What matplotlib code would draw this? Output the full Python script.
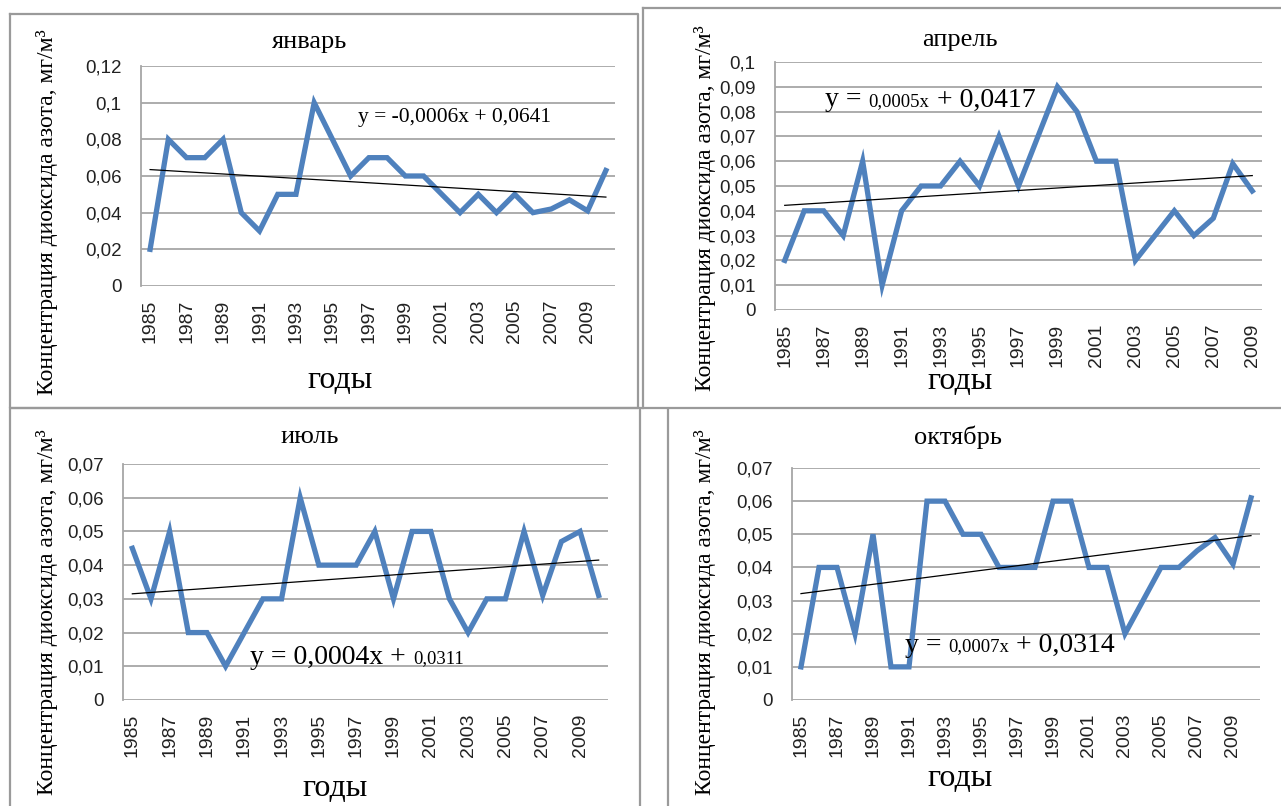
import matplotlib
matplotlib.use("Agg")
import matplotlib.pyplot as plt
from matplotlib.offsetbox import TextArea, HPacker, AnchoredOffsetbox
from matplotlib.lines import Line2D

W, H = 1281, 806

# ---- data -------------------------------------------------------------
years_jan = list(range(1985, 2011))
years_apr = list(range(1985, 2010))
years_jul = list(range(1985, 2011))
years_oct = list(range(1985, 2011))

jan = [0.02, 0.08, 0.07, 0.07, 0.08, 0.04, 0.03, 0.05, 0.05, 0.10, 0.08, 0.06, 0.07,
       0.07, 0.06, 0.06, 0.05, 0.04, 0.05, 0.04, 0.05, 0.04, 0.042, 0.047, 0.041, 0.063]
apr = [0.02, 0.04, 0.04, 0.03, 0.06, 0.01, 0.04, 0.05, 0.05, 0.06, 0.05, 0.07, 0.05,
       0.07, 0.09, 0.08, 0.06, 0.06, 0.02, 0.03, 0.04, 0.03, 0.037, 0.059, 0.048]
jul = [0.045, 0.03, 0.05, 0.02, 0.02, 0.01, 0.02, 0.03, 0.03, 0.06, 0.04, 0.04, 0.04,
       0.05, 0.03, 0.05, 0.05, 0.03, 0.02, 0.03, 0.03, 0.05, 0.031, 0.047, 0.05, 0.031]
octo = [0.01, 0.04, 0.04, 0.02, 0.05, 0.01, 0.01, 0.06, 0.06, 0.05, 0.05, 0.04, 0.04,
        0.04, 0.06, 0.06, 0.04, 0.04, 0.02, 0.03, 0.04, 0.04, 0.045, 0.049, 0.041, 0.061]

# linear trend coefficients (x = 1..N)
trend_jan = (-0.0006, 0.0641)
trend_apr = (0.0005, 0.0417)
trend_jul = (0.0004, 0.0311)
trend_oct = (0.0007, 0.0314)

# trend equations as (text, font size) pieces
eq_jan = [("y = -0,0006x + 0,0641", 15.5)]
eq_apr = [("y = ", 20), ("0,0005x", 13.5), (" + 0,0417", 20)]
eq_jul = [("y = 0,0004x + ", 20), ("0,0311", 13.5)]
eq_oct = [("y = ", 20), ("0,0007x", 13.5), (" + 0,0314", 20)]

titles = ["январь", "апрель", "июль", "октябрь"]
ylabel = "Концентрация диоксида азота, мг/м³"
xlabel = "годы"

ymax_jan, ystep_jan = 0.12, 0.02
ymax_apr, ystep_apr = 0.10, 0.01
ymax_jul, ystep_jul = 0.07, 0.01
ymax_oct, ystep_oct = 0.07, 0.01

# ---- styling ----------------------------------------------------------
SERIF = "Liberation Serif"
SANS = "Liberation Sans"
LINE_BLUE = "#4F81BD"
GRID = "#A6A6A6"
FRAME = "#9A9A9A"

fig = plt.figure(figsize=(W / 100, H / 100), dpi=100)
fig.patch.set_facecolor("white")


def px_axes(x0, y0, x1, y1):
    return fig.add_axes([x0 / W, 1 - y1 / H, (x1 - x0) / W, (y1 - y0) / H])


def fig_text(x, y, s, **kw):
    fig.text(x / W, 1 - y / H, s, **kw)


def fmt(v):
    v = round(v, 4)
    if v == 0:
        return "0"
    return f"{v:g}".replace(".", ",")


# panel frames
frames = [
    [(10, 14), (638, 14), (638, 408), (10, 408), (10, 14)],
    [(643, 8), (1281, 8)],
    [(643, 8), (643, 408)],
    [(10, 408), (1281, 408)],
    [(10, 410), (10, 806)],
    [(640, 410), (640, 806)],
    [(668, 410), (668, 806)],
]
for pts in frames:
    xs = [p[0] / W for p in pts]
    ys = [1 - p[1] / H for p in pts]
    fig.add_artist(Line2D(xs, ys, color=FRAME, lw=1.6, transform=fig.transFigure))


def panel(rect, years, values, trend, eq, eq_pos, ymax, ystep):
    ax = px_axes(*rect)
    n = len(values)
    xs = list(range(n))
    ax.set_xlim(-0.5, n - 0.5)
    ax.set_ylim(0, ymax)
    nt = int(round(ymax / ystep))
    yt = [round(i * ystep, 4) for i in range(nt + 1)]
    ax.set_yticks(yt)
    ax.set_yticklabels([fmt(v) for v in yt], fontname=SANS, fontsize=13.5, color="#222222")
    ax.set_xticks(xs[::2])
    ax.set_xticklabels([str(y) for y in years[::2]], rotation=90, fontname=SANS,
                       fontsize=14, color="#222222")
    ax.tick_params(length=0, pad=14)
    ax.tick_params(axis="x", pad=10)
    ax.grid(axis="y", color=GRID, lw=1.3)
    ax.set_axisbelow(True)
    for s in ("top", "right", "bottom"):
        ax.spines[s].set_visible(False)
    ax.spines["left"].set_color(GRID)
    ax.spines["left"].set_linewidth(1.3)

    ax.plot(xs, values, color=LINE_BLUE, lw=3.8, solid_joinstyle="miter", zorder=3)
    k, b = trend
    tx = [0, n - 1]
    ty = [k * 1 + b, k * n + b]
    ax.plot(tx, ty, color="black", lw=0.9, zorder=4)

    parts = [TextArea(s, textprops=dict(fontsize=fs, fontname=SERIF, color="black"))
             for s, fs in eq]
    box = HPacker(children=parts, align="baseline", pad=0, sep=0)
    anchored = AnchoredOffsetbox(loc="center left", child=box, pad=0, borderpad=0,
                                 frameon=False, bbox_to_anchor=eq_pos,
                                 bbox_transform=ax.transAxes)
    ax.add_artist(anchored)
    return ax


panel((141, 66, 615, 286), years_jan, jan, trend_jan, eq_jan, (0.458, 0.764), ymax_jan, ystep_jan)
panel((775, 62, 1262, 310), years_apr, apr, trend_apr, eq_apr, (0.103, 0.847), ymax_apr, ystep_apr)
panel((123, 464, 608, 700), years_jul, jul, trend_jul, eq_jul, (0.262, 0.182), ymax_jul, ystep_jul)
panel((792, 468, 1260, 700), years_oct, octo, trend_oct, eq_oct, (0.241, 0.237), ymax_oct, ystep_oct)

# titles
title_pos = [(310, 42), (960, 40), (310, 437), (958, 437)]
for (x, y), t in zip(title_pos, titles):
    fig_text(x, y, t, ha="center", va="center", fontname=SERIF, fontsize=19)

# axis titles
ylabel_pos = [(47, 212), (705, 208), (47, 612), (705, 612)]
for x, y in ylabel_pos:
    fig_text(x, y, ylabel, ha="center", va="center", rotation=90,
             fontname=SERIF, fontsize=17)

xlabel_pos = [(340, 380), (960, 382), (335, 789), (960, 778)]
for x, y in xlabel_pos:
    fig_text(x, y, xlabel, ha="center", va="center", fontname=SERIF, fontsize=23)

fig.savefig("out.png", dpi=100, facecolor="white")
